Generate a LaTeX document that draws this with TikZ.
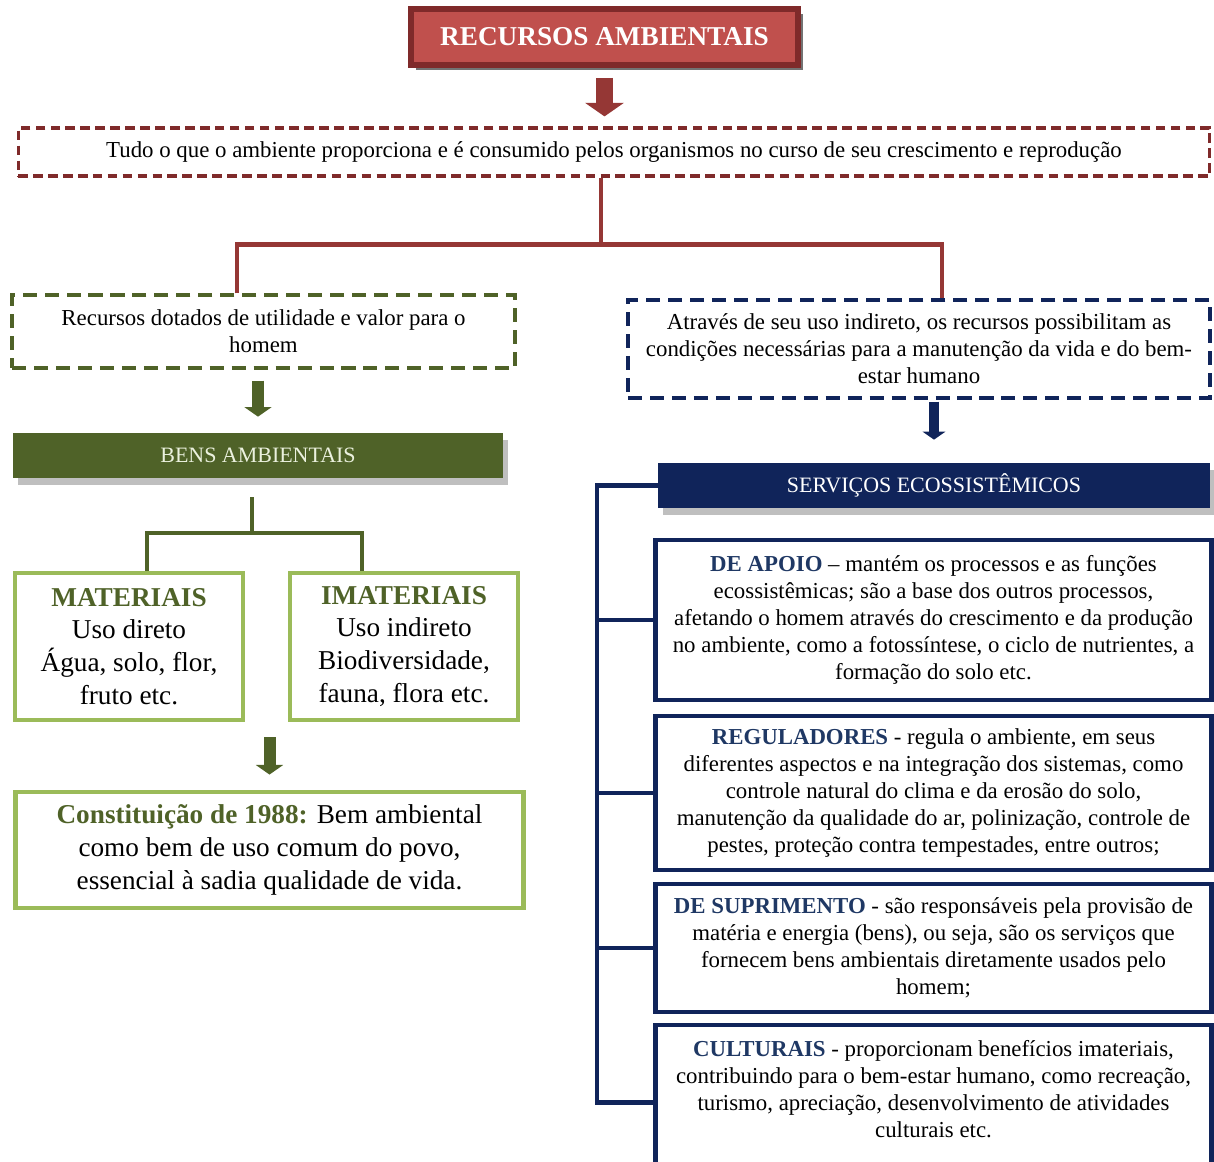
\documentclass[tikz,border=0pt]{standalone}
\usepackage{fontspec}
\setmainfont{Liberation Serif}
\usetikzlibrary{arrows.meta,shadows}
% cores do esquema
\definecolor{vinho}{HTML}{7F2A2A}
\definecolor{vermelhoTitulo}{HTML}{C0504D}
\definecolor{vermelhoGalho}{HTML}{953735}
\definecolor{verdeEscuro}{HTML}{4F6228}
\definecolor{verdeClaro}{HTML}{9BBB59}
\definecolor{creme}{HTML}{EBF1DE}
\definecolor{azulEscuro}{HTML}{10245A}
\definecolor{azulTexto}{HTML}{1F3864}
\begin{document}
\begin{tikzpicture}[x=0.02cm,y=-0.02cm]
%============================================================
%  Estilos das caixas, setas e ligacoes
%============================================================
\tikzset{ % sem linha em branco aqui!
    % ---  Caixas ------
    titulo/.style={
            rectangle,
            draw=vinho, line width=3.2pt,
            fill=vermelhoTitulo,
            text=white,
            font=\fontsize{15.5}{18}\selectfont\bfseries,
            minimum width=7.74cm, minimum height=1.12cm,
            drop shadow={shadow xshift=3pt, shadow yshift=-3pt, fill=black!55, opacity=1}
        },
    tracejada/.style={ %
            rectangle,
            line width=1.8pt,
            align=center,
            inner sep=0pt,
            font=\fontsize{13}{15.3}\selectfont
        },
    faixa/.style={ % caixa cheia com sombra
            rectangle,
            inner sep=0pt,
            font=\fontsize{12.5}{15}\selectfont,
            drop shadow={shadow xshift=3pt, shadow yshift=-4pt, fill=black!25, opacity=1}
        },
    caixaVerde/.style={
            rectangle,
            draw=verdeClaro, line width=2.8pt,
            align=center, inner sep=0pt,
            font=\fontsize{15.5}{18.7}\selectfont
        },
    caixaAzul/.style={
            rectangle,
            draw=azulEscuro, line width=2.8pt,
            align=center, inner sep=0pt,
            minimum width=11.14cm,
            font=\fontsize{13}{15.4}\selectfont
        },
    % ---  Ligacoes ------
    galho/.style={line width=2.4pt},
    setaBloco/.style={ % seta larga
            -{Triangle[length=#1*0.32cm, width=#1*0.9cm]},
            line width=#1*0.4cm
        }
}
   \useasboundingbox (0,0) rectangle (1214,1162);
   \clip (0,0) rectangle (1214,1162);
   % titulo e definicao
   \node[titulo] (recursosAmb) at (604.5,37) {RECURSOS AMBIENTAIS};
   \node[tracejada, draw=vinho, dash pattern=on 5.5pt off 3pt,
         minimum width=23.84cm, minimum height=0.96cm] (tudo) at (614,152)
         {Tudo o que o ambiente proporciona e é consumido pelos organismos no curso de seu crescimento e reprodução};
   % os dois ramos
   \node[tracejada, draw=verdeEscuro, dash pattern=on 8pt off 4.5pt,
         minimum width=10.06cm, minimum height=1.46cm] (utilidade) at (263.5,331.5)
         {Recursos dotados de utilidade e valor para o\\homem};
   \node[tracejada, draw=azulEscuro, dash pattern=on 8pt off 4.5pt,
         minimum width=11.64cm, minimum height=1.96cm] (indireto) at (919,349)
         {Através de seu uso indireto, os recursos possibilitam as\\condições necessárias para a manutenção da vida e do bem-\\estar humano};
   % lado esquerdo: bens
   \node[faixa, fill=verdeEscuro, text=creme,
         minimum width=9.8cm, minimum height=0.9cm] (bens) at (258,455.5) {BENS AMBIENTAIS};
   \node[caixaVerde, minimum width=4.56cm, minimum height=2.94cm] (materiais) at (129,646.5)
         {\textcolor{verdeEscuro}{\bfseries MATERIAIS}\\Uso direto\\Água, solo, flor,\\fruto etc.};
   \node[caixaVerde, minimum width=4.56cm, minimum height=2.94cm] (imateriais) at (404,646.5)
         {\textcolor{verdeEscuro}{\bfseries IMATERIAIS}\\Uso indireto\\Biodiversidade,\\fauna, flora etc.};
   \node[caixaVerde, minimum width=10.18cm, minimum height=2.32cm] (constituicao) at (269.5,850)
         {\textcolor{verdeEscuro}{\bfseries Constituição de 1988:} Bem ambiental\\como bem de uso comum do povo,\\essencial à sadia qualidade de vida.};
   % lado direito: servicos
   \node[faixa, fill=azulEscuro, text=white,
         minimum width=11.04cm, minimum height=0.9cm] (servicos) at (934,485.5) {SERVIÇOS ECOSSISTÊMICOS};
   \node[caixaAzul, minimum height=3.2cm] (apoio) at (933.5,620)
         {\textcolor{azulTexto}{\bfseries DE APOIO} -- mantém os processos e as funções\\ecossistêmicas; são a base dos outros processos,\\afetando o homem através do crescimento e da produção\\no ambiente, como a fotossíntese, o ciclo de nutrientes, a\\formação do solo etc.};
   \node[caixaAzul, minimum height=3.08cm] (reguladores) at (933.5,793)
         {\textcolor{azulTexto}{\bfseries REGULADORES} - regula o ambiente, em seus\\diferentes aspectos e na integração dos sistemas, como\\controle natural do clima e da erosão do solo,\\manutenção da qualidade do ar, polinização, controle de\\pestes, proteção contra tempestades, entre outros;};
   \node[caixaAzul, minimum height=2.56cm] (suprimento) at (933.5,948)
         {\textcolor{azulTexto}{\bfseries DE SUPRIMENTO} - são responsáveis pela provisão de\\matéria e energia (bens), ou seja, são os serviços que\\fornecem bens ambientais diretamente usados pelo\\homem;};
   \node[caixaAzul, minimum height=3.1cm] (culturais) at (933.5,1102.5)
         {\textcolor{azulTexto}{\bfseries CULTURAIS} - proporcionam benefícios imateriais,\\contribuindo para o bem-estar humano, como recreação,\\turismo, apreciação, desenvolvimento de atividades\\culturais etc.\\\mbox{}};

   % setas largas
   \draw[setaBloco=0.85, vermelhoGalho, shorten <=0.2cm, shorten >=0.2cm]
        (recursosAmb.south) -- (recursosAmb.south |- tudo.north);
   \draw[setaBloco=0.6, verdeEscuro, shorten <=0.22cm, shorten >=0.32cm]
        (utilidade.south -| bens.north) -- (bens.north);
   \draw[setaBloco=0.6, verdeEscuro, shorten <=0.3cm, shorten >=0.3cm]
        (constituicao.north |- materiais.south) -- (constituicao.north);
   \draw[setaBloco=0.5, azulEscuro, shorten <=0.04cm, shorten >=0.46cm]
        (indireto.south -| servicos.north) -- (servicos.north);

   % ligacoes em arvore
   \draw[galho, vermelhoGalho] ([xshift=-0.26cm]tudo.south) -- ++(0,67) coordinate (juncao);
   \draw[galho, vermelhoGalho] ([xshift=-0.53cm]utilidade.north) |- (juncao)
        -| ([xshift=0.46cm]indireto.north);
   \draw[galho, verdeEscuro] ([xshift=-0.12cm,yshift=-0.38cm]bens.south) -- ++(0,36) coordinate (juncaoVerde);
   \draw[galho, verdeEscuro] ([xshift=0.36cm]materiais.north) |- (juncaoVerde)
        -| ([xshift=-0.84cm]imateriais.north);

   % chave azul dos servicos
   \coordinate (barra) at (597,0);
   \draw[galho, azulEscuro, line width=2.8pt] (servicos.west) -- (servicos.west -| barra) |- (culturais.west);
   \draw[galho, azulEscuro, line width=2.8pt] (apoio.west) -- (apoio.west -| barra);
   \draw[galho, azulEscuro, line width=2.8pt] (reguladores.west) -- (reguladores.west -| barra);
   \draw[galho, azulEscuro, line width=2.8pt] (suprimento.west) -- (suprimento.west -| barra);
\end{tikzpicture}
\end{document}
